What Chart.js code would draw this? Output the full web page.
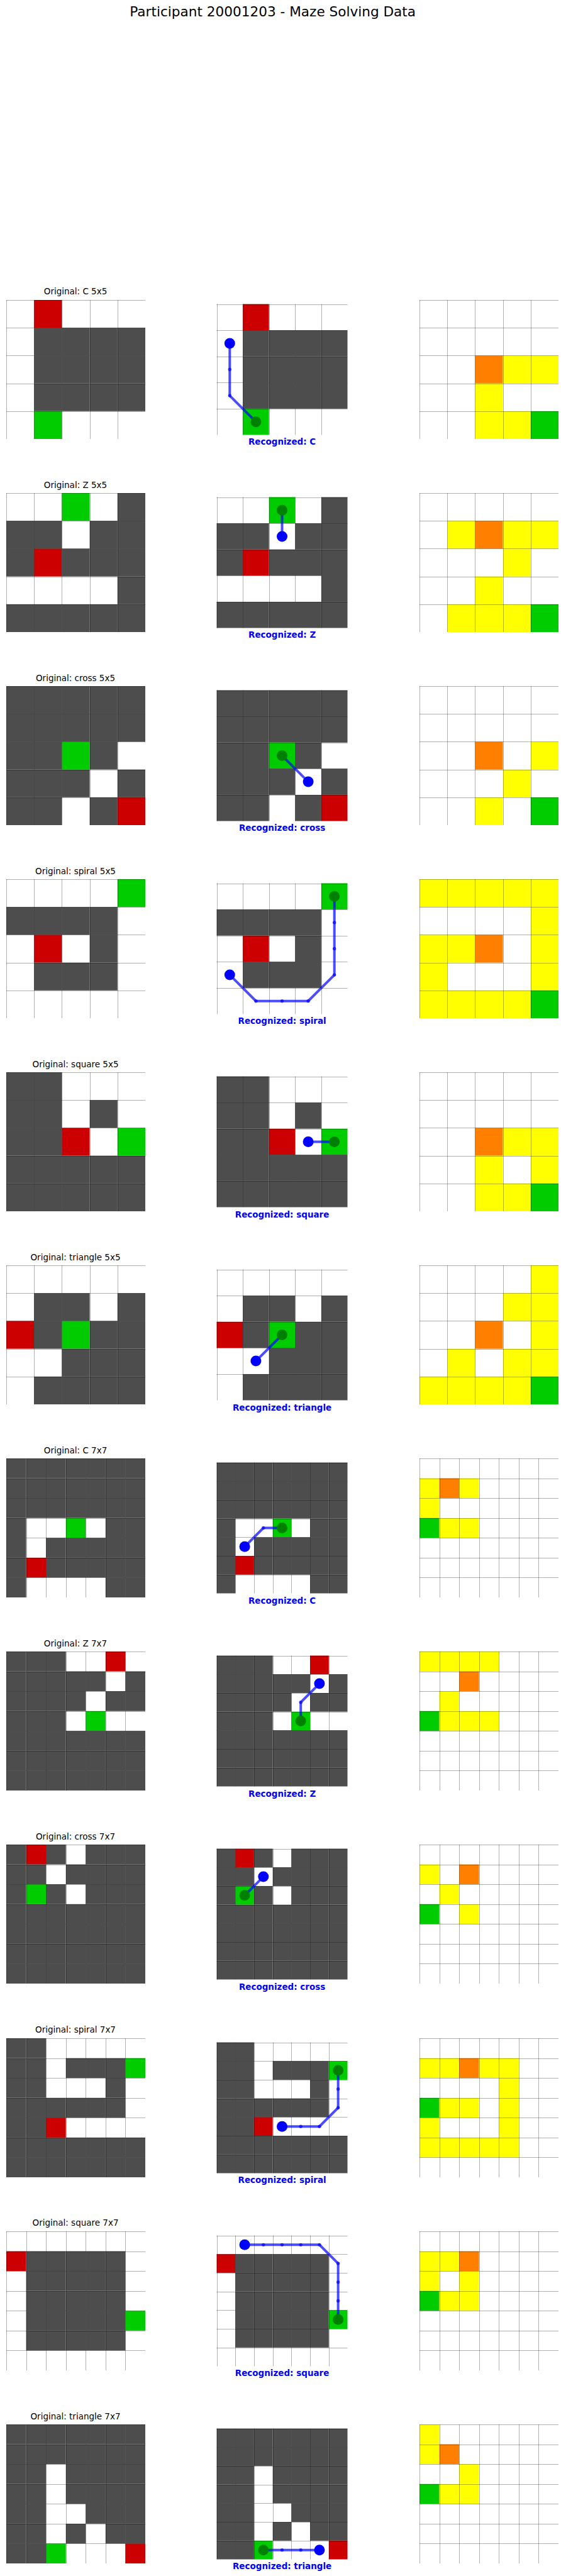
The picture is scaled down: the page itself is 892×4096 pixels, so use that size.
<!DOCTYPE html>
<html>
<head>
<meta charset="utf-8">
<title>Maze Solving Data</title>
<script src="https://cdn.jsdelivr.net/npm/chart.js@4.4.0/dist/chart.umd.min.js"></script>
<style>
  html, body { margin: 0; padding: 0; background: #fff; }
  #page { position: relative; width: 892px; height: 4096px; overflow: hidden; font-family: "DejaVu Sans", sans-serif; }
  #page canvas { position: absolute; }
  .txt { position: absolute; white-space: nowrap; line-height: 1; transform: translateX(-50%); color: #000; }
</style>
</head>
<body>
<div id="page"></div>
<script>
// --- data ---
const participantId = '20001203';
const mazeShapes = ['C', 'Z', 'cross', 'spiral', 'square', 'triangle', 'C', 'Z', 'cross', 'spiral', 'square', 'triangle'];
const recognizedShapes = ['C', 'Z', 'cross', 'spiral', 'square', 'triangle', 'C', 'Z', 'cross', 'spiral', 'square', 'triangle'];
const mazeSizes = [5, 5, 5, 5, 5, 5, 7, 7, 7, 7, 7, 7];

// '#' wall, '.' open, 'S' start (red), 'G' goal (green)
const mazeGrids = [
    ['.S...', '.####', '.####', '.####', '.G...'],
    ['..G.#', '##.##', '#S###', '....#', '#####'],
    ['#####', '#####', '##G#.', '###.#', '##.#S'],
    ['....G', '####.', '.S.#.', '.###.', '.....'],
    ['##...', '##.#.', '##S.G', '#####', '#####'],
    ['.....', '.##.#', 'S#G##', '..###', '.####'],
    ['#######', '#######', '#######', '#..G.##', '#.#####', '#S#####', '#....##'],
    ['###..S.', '#####.#', '####.##', '###.G..', '#######', '#######', '#######'],
    ['#S#.###', '##.####', '#G#.###', '#######', '#######', '#######', '#######'],
    ['##.....', '##.###G', '##...#.', '######.', '##S....', '#######', '#######'],
    ['.......', 'S#####.', '.#####.', '.#####.', '.#####G', '.#####.', '.......'],
    ['#######', '#######', '##.####', '##.####', '##..###', '##.#.##', '##G...S']
];

// 'y' visited, 'o' most visited, 'g' goal, '.' not visited
const heatGrids = [
    ['.....', '.....', '..oyy', '..y..', '..yyg'],
    ['.....', '.yoyy', '...y.', '..y..', '.yyyg'],
    ['.....', '.....', '..o.y', '...y.', '..y.g'],
    ['yyyyy', '....y', 'yyo.y', 'y...y', 'yyyyg'],
    ['.....', '.....', '..oyy', '..y.y', '..yyg'],
    ['....y', '...yy', '..o.y', '.y.yy', 'yyyyg'],
    ['.......', 'yoy....', 'y......', 'gyy....', '.......', '.......', '.......'],
    ['yyyy...', '..o....', '.y.....', 'gyyy...', '.......', '.......', '.......'],
    ['.......', 'y.o....', '.y.....', 'g.y....', '.......', '.......', '.......'],
    ['.......', 'yyoyy..', '....y..', 'gyy.y..', 'y...y..', 'yyyyy..', '.......'],
    ['.......', 'yyo....', 'y.y....', 'gyy....', '.......', '.......', '.......'],
    ['y......', 'yo.....', '..y....', 'gyy....', '.......', '.......', '.......']
];

// recognized route as [row, col], first = start, last = end
const solvePaths = [
    [[1, 0], [2, 0], [3, 0], [4, 1]],
    [[1, 2], [0, 2]],
    [[3, 3], [2, 2]],
    [[3, 0], [4, 1], [4, 2], [4, 3], [3, 4], [2, 4], [1, 4], [0, 4]],
    [[2, 3], [2, 4]],
    [[3, 1], [2, 2]],
    [[4, 1], [3, 2], [3, 3]],
    [[1, 5], [2, 4], [3, 4]],
    [[1, 2], [2, 1]],
    [[4, 3], [4, 4], [4, 5], [3, 6], [2, 6], [1, 6]],
    [[0, 1], [0, 2], [0, 3], [0, 4], [0, 5], [1, 6], [2, 6], [3, 6], [4, 6]],
    [[6, 5], [6, 4], [6, 3], [6, 2]]
];

// --- layout (reference pixels scaled to the window) ---
const s = 892 / 1375;
const rowTop = i => (734.7 + 473.4 * i) * s;
const colLeft = [15, 521.5, 1028.3].map(v => v * s);
const boxSize = 340 * s;
const pad = 2;
const fontPx = 20.8 * s;

const cellColors = {
    '#': '#4d4d4d',
    'S': '#cc0000',
    'G': '#00cc00',
    'y': '#ffff00',
    'o': '#ff8000',
    'g': '#00cc00'
};

const page = document.getElementById('page');

function addText(str, cx, baseline, size, style) {
    const d = document.createElement('div');
    d.className = 'txt';
    d.textContent = str;
    d.style.fontSize = size + 'px';
    d.style.left = cx + 'px';
    d.style.top = (baseline - 0.846 * size) + 'px';
    if (style) Object.assign(d.style, style);
    page.appendChild(d);
}

// draws the cells and grid through the chart's scales
const cellsPlugin = {
    id: 'mazeCells',
    beforeDatasetsDraw(chart, args, opts) {
        const { ctx } = chart;
        const xs = chart.scales.x;
        const ys = chart.scales.y;
        const rows = opts.rows || [];
        const n = rows.length;
        ctx.save();
        rows.forEach((line, r) => {
            [...line].forEach((ch, c) => {
                const fill = cellColors[ch];
                if (!fill) return;
                const x0 = xs.getPixelForValue(c - 0.5);
                const x1 = xs.getPixelForValue(c + 0.5);
                const y0 = ys.getPixelForValue(r - 0.5);
                const y1 = ys.getPixelForValue(r + 0.5);
                ctx.fillStyle = fill;
                ctx.fillRect(x0, y0, x1 - x0, y1 - y0);
            });
        });
        ctx.strokeStyle = 'rgba(0,0,0,0.3)';
        ctx.lineWidth = 1;
        const left = xs.getPixelForValue(-0.5), right = xs.getPixelForValue(n - 0.5);
        const top = ys.getPixelForValue(-0.5), bottom = ys.getPixelForValue(n - 0.5);
        for (let k = 0; k < n; k++) {
            const px = Math.round(xs.getPixelForValue(k - 0.5)) + 0.5;
            const py = Math.round(ys.getPixelForValue(k - 0.5)) + 0.5;
            ctx.beginPath();
            ctx.moveTo(px, top);
            ctx.lineTo(px, bottom);
            ctx.moveTo(left, py);
            ctx.lineTo(right, py);
            ctx.stroke();
        }
        ctx.restore();
    }
};

function makePanel(left, top, n, rows, path) {
    const canvas = document.createElement('canvas');
    const w = Math.round(boxSize + 2 * pad);
    canvas.width = w;
    canvas.height = w;
    canvas.style.left = Math.round(left - pad) + 'px';
    canvas.style.top = Math.round(top - pad) + 'px';
    canvas.style.width = w + 'px';
    canvas.style.height = w + 'px';
    page.appendChild(canvas);

    const datasets = [];
    if (path) {
        const pts = path.map(([r, c]) => ({ x: c, y: r }));
        datasets.push({
            data: [pts[0]],
            pointRadius: 8.5,
            pointBackgroundColor: '#0000ff',
            pointBorderWidth: 0,
            order: 0
        });
        datasets.push({
            data: [pts[pts.length - 1]],
            pointRadius: 8.5,
            pointBackgroundColor: '#008000',
            pointBorderWidth: 0,
            order: 1
        });
        datasets.push({
            data: pts,
            showLine: true,
            borderColor: 'rgba(0, 0, 255, 0.7)',
            borderWidth: 4,
            pointRadius: 2.7,
            pointBackgroundColor: 'rgba(0, 0, 255, 0.7)',
            pointBorderWidth: 0,
            order: 2
        });
    }

    new Chart(canvas, {
        type: 'scatter',
        data: { datasets: datasets },
        options: {
            responsive: false,
            devicePixelRatio: 1,
            animation: false,
            events: [],
            layout: { padding: pad },
            scales: {
                x: { type: 'linear', min: -0.5, max: n - 0.5, display: false },
                y: { type: 'linear', min: -0.5, max: n - 0.5, reverse: true, display: false }
            },
            plugins: {
                legend: { display: false },
                tooltip: { enabled: false },
                mazeCells: { rows: rows }
            }
        },
        plugins: [cellsPlugin]
    });
}

addText('Participant ' + participantId + ' - Maze Solving Data', 668.5 * s, 41 * s, 33.3 * s);

mazeShapes.forEach((shape, i) => {
    const n = mazeSizes[i];
    const top = rowTop(i);
    addText('Original: ' + shape + ' ' + n + 'x' + n, colLeft[0] + boxSize / 2, top - 12 * s, fontPx);
    addText('Recognized: ' + recognizedShapes[i], colLeft[1] + boxSize / 2, top + boxSize + 16 * s, fontPx,
        { fontWeight: 'bold', color: '#0000ff' });
    makePanel(colLeft[0], top, n, mazeGrids[i], null);
    makePanel(colLeft[1], top, n, mazeGrids[i], solvePaths[i]);
    makePanel(colLeft[2], top, n, heatGrids[i], null);
});
</script>
</body>
</html>
